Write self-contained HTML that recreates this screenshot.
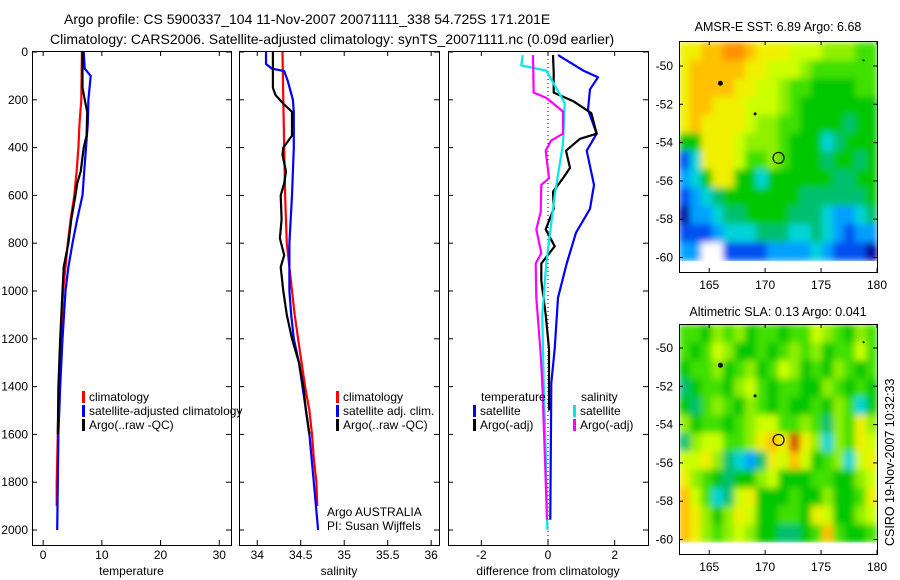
<!DOCTYPE html>
<html><head><meta charset="utf-8"><style>
html,body{margin:0;padding:0;background:#fff;}
svg{display:block;font-family:"Liberation Sans",sans-serif;}
</style></head><body>
<svg id="fig" width="900" height="580" viewBox="0 0 900 580" xmlns="http://www.w3.org/2000/svg">
<defs>
<filter id="soft" x="0" y="0" width="1" height="1"><feGaussianBlur stdDeviation="3.5" edgeMode="duplicate"/></filter>
<clipPath id="clipSst"><rect x="679.5" y="41.5" width="198" height="219.5"/></clipPath>
<clipPath id="clipSla"><rect x="679.5" y="324.5" width="198" height="218"/></clipPath>
</defs>
<text x="64" y="24" font-size="14">Argo profile: CS 5900337_104 11-Nov-2007 20071111_338 54.725S 171.201E</text>
<text x="50" y="44" font-size="14">Climatology: CARS2006. Satellite-adjusted climatology: synTS_20071111.nc (0.09d earlier)</text>
<g id="g"></g>
</svg>
<script>
// ---- temperature panel data
const tClimDepth=[0,200,300,400,500,600,700,800,900,1000,1200,1400,1600,1800,1900];
const tClimVal=[6.6,6.5,6.2,6.0,5.7,5.3,4.7,4.2,3.8,3.4,3.0,2.7,2.5,2.3,2.3];
const tSatDepth=[0,70,100,200,300,400,500,600,700,800,900,1000,1200,1400,1600,1800,2000];
const tSatVal=[6.9,7.1,8.1,7.7,7.6,7.3,7.0,6.7,5.8,5.0,4.3,3.8,3.3,2.9,2.6,2.5,2.4];
const tArgoDepth=[0,150,200,250,350,400,500,550,600,700,800,900,1000,1200,1400,1600];
const tArgoVal=[6.7,6.7,7.1,7.5,7.4,6.9,6.4,5.8,5.5,4.8,4.3,3.5,3.3,2.9,2.6,2.5];
// ---- salinity panel data
const sClimDepth=[0,200,400,600,800,900,1000,1100,1200,1300,1400,1500,1600,1700,1800,1900];
const sClimVal=[34.29,34.30,34.31,34.32,34.34,34.37,34.40,34.43,34.47,34.51,34.55,34.60,34.63,34.65,34.68,34.69];
const sSatDepth=[0,50,70,80,120,200,250,400,600,800,1000,1100,1200,1300,1400,1600,1800,2000];
const sSatVal=[34.10,34.10,34.17,34.31,34.35,34.41,34.42,34.42,34.40,34.37,34.37,34.39,34.42,34.48,34.52,34.60,34.65,34.70];
const sArgoDepth=[0,150,180,220,250,350,400,430,500,550,600,700,780,850,900,1000,1100,1200,1300,1400,1500,1600];
const sArgoVal=[34.18,34.18,34.21,34.31,34.40,34.40,34.30,34.29,34.33,34.31,34.27,34.28,34.26,34.31,34.27,34.30,34.34,34.40,34.48,34.53,34.56,34.60];
// ---- difference panel data
const dTSatDepth=[13,78,106,156,242,342,413,556,656,756,885,1028,1242,1385,1957];
const dTSatVal=[0.3,1.06,1.5,1.26,1.2,1.46,1.16,1.38,1.26,0.84,0.56,0.3,0.2,0.1,0.07];
const dTArgoDepth=[13,85,170,206,256,342,363,413,485,528,585,656,742,813,885,956,1099,1242,1500];
const dTArgoVal=[0.15,0.17,0.17,0.76,1.3,1.46,0.96,0.54,0.66,0.45,0.15,0.17,-0.07,0.2,-0.2,-0.2,-0.07,0.03,0.03];
const dSSatDepth=[13,56,78,213,385,599,885,1099,1385,1671,2000];
const dSSatVal=[-0.76,-0.8,-0.05,0.5,0.45,0.2,-0.05,-0.17,-0.13,-0.07,-0.02];
const dSArgoDepth=[13,170,192,249,342,370,413,528,556,670,742,842,885,1028,1242,1385,1671,1957];
const dSArgoVal=[-0.45,-0.43,-0.05,0.45,0.45,0.1,-0.07,0.03,-0.2,-0.22,-0.35,-0.2,-0.37,-0.35,-0.23,-0.17,-0.1,-0.03];
// ---- tick labels
const depthTicks=[0,200,400,600,800,1000,1200,1400,1600,1800,2000];
const tempTicks=[0,10,20,30];
const salTicks=[34,34.5,35,35.5,36];
const diffTicks=[-2,0,2];
const lonTicks=[165,170,175,180];
const latTicks=[-50,-52,-54,-56,-58,-60];
// ---- map grids (colour level 0..12), rows north->south, cols west->east
const sstGrid=[
[9,9,10,10,11,11,10,9,9,9,8,8,8,7,7,7,6,6],
[9,10,10,10,10,10,9,9,8,8,8,7,6,6,6,6,6,6],
[9,10,10,10,10,9,9,8,8,7,6,6,5,5,5,5,6,6],
[9,10,10,9,9,9,8,8,8,7,6,5,5,5,5,5,5,5],
[9,10,9,9,9,9,8,7,7,6,6,5,5,5,5,4,5,5],
[5,5,9,9,9,8,7,7,7,6,5,5,5,3,4,5,5,5],
[1,3,9,9,9,8,6,6,7,6,5,5,5,4,5,5,4,5],
[2,3,5,9,9,5,5,3,5,5,5,5,5,5,4,4,5,5],
[1,2,3,4,5,5,5,5,5,5,5,4,4,4,4,4,4,5],
[0,2,2,3,4,4,5,5,5,5,4,4,4,3,2,2,3,4],
[1,1,1,2,3,3,3,4,4,4,3,3,4,3,2,1,2,2],
[2,2,-1,-1,1,1,1,1,2,2,2,2,3,2,1,1,1,0]];
const slaGrid=[
[6,6,5,7,6,7,5,6,6,5,6,6,8,7,6,5,7,6],
[6,5,6,8,7,5,5,6,5,6,7,6,7,5,6,6,8,6],
[5,6,6,7,5,6,7,5,6,8,7,5,6,5,7,6,5,6],
[4,5,6,6,5,7,8,6,5,6,6,5,5,7,6,5,6,5],
[5,4,6,7,6,5,7,6,5,6,5,5,6,5,7,6,3,5],
[7,5,6,6,5,6,7,8,8,6,6,7,6,4,7,6,9,7],
[4,7,8,8,6,6,7,9,10,9,12,9,7,3,7,6,9,8],
[8,8,9,7,4,3,2,4,9,8,10,8,5,6,7,3,8,9],
[9,7,6,5,4,5,5,7,8,5,5,5,6,6,5,5,7,8],
[10,8,6,3,4,8,9,5,5,5,6,5,5,7,5,5,6,9],
[10,9,7,5,7,9,8,5,5,6,6,5,9,8,5,5,7,8],
[10,9,7,6,7,8,7,5,5,4,4,5,6,10,6,5,5,6]];
const palette=['#0000a0','#0050f0','#00a0ff','#00d4d8','#00c070','#00c800','#40e000','#90f000','#ccff00','#f0f000','#ffc000','#ff9000','#d05000'];
const floatLon=[171.2], floatLat=[-54.8];

const NS='http://www.w3.org/2000/svg';
const G=document.getElementById('g');
function mk(tag,attrs,parent){const e=document.createElementNS(NS,tag);for(const k in attrs)e.setAttribute(k,attrs[k]);(parent||G).appendChild(e);return e;}
function txt(s,x,y,attrs,parent){const e=mk('text',Object.assign({x:x,y:y,'font-size':12},attrs||{}),parent);e.textContent=s;return e;}

const yTop=52, pxPerM=0.239, boxTop=51, boxBot=545;
const yD=d=>yTop+d*pxPerM;
function panel(name,x0,x1,xmin,xmax,ticks,label,fmt){
  const sx=v=>x0+(v-xmin)/(xmax-xmin)*(x1-x0);
  const g=mk('g',{});
  
  
  const r=mk('rect',{x:x0+0.5,y:boxTop+0.5,width:x1-x0,height:boxBot-boxTop,fill:'none',stroke:'#000','stroke-width':1},g);
  
  
  ticks.forEach(t=>{const x=sx(t);
    mk('line',{x1:x,x2:x,y1:boxBot,y2:boxBot-5,stroke:'#000'},g);
    mk('line',{x1:x,x2:x,y1:boxTop,y2:boxTop+5,stroke:'#000'},g);
    const tl=txt(fmt(t),x,559,{'text-anchor':'middle'},g);
    
    });
  depthTicks.forEach(d=>{const y=yD(d);
    mk('line',{x1:x0,x2:x0+5,y1:y,y2:y,stroke:'#000'},g);
    mk('line',{x1:x1,x2:x1-5,y1:y,y2:y,stroke:'#000'},g);});
  const xl=txt(label,(x0+x1)/2,575,{'text-anchor':'middle'},g);
  
  
  return {sx:sx,g:g};
}
function line(p,depths,vals,color,name,w){
  const pts=depths.map((d,i)=>p.sx(vals[i]).toFixed(1)+','+yD(d).toFixed(1)).join(' ');
  const e=mk('polyline',{points:pts,fill:'none',stroke:color,'stroke-width':w||2.2,'stroke-linejoin':'round'},p.g);
  
  
}
function legend(x,y,color,label,name,parent){
  const b=mk('rect',{x:x,y:y-10,width:3,height:12,fill:color},parent);
  
  
  const t=txt(label,x+7,y,{},parent);
  
  
}
depthTicks.forEach(d=>{const t=txt(String(d),28,yD(d)+4,{'text-anchor':'end'});
  
  });

const p1=panel('temperature',32,231,-1.9,32,tempTicks,'temperature',String);
line(p1,tClimDepth,tClimVal,'#ff0000','temp-climatology-line');
line(p1,tSatDepth,tSatVal,'#0000ff','temp-satellite-line');
line(p1,tArgoDepth,tArgoVal,'#000000','temp-argo-line');
legend(82,401,'#ff0000','climatology','legend-climatology',p1.g);
legend(82,415,'#0000ff','satellite-adjusted climatology','legend-satellite-adjusted',p1.g);
legend(82,429,'#000000','Argo(..raw -QC)','legend-argo-raw',p1.g);

const p2=panel('salinity',239,439,33.79,36.09,salTicks,'salinity',String);
line(p2,sClimDepth,sClimVal,'#ff0000','sal-climatology-line');
line(p2,sSatDepth,sSatVal,'#0000ff','sal-satellite-line');
line(p2,sArgoDepth,sArgoVal,'#000000','sal-argo-line');
legend(336,401,'#ff0000','climatology','legend-sal-climatology',p2.g);
legend(336,415,'#0000ff','satellite adj. clim.','legend-sal-satellite',p2.g);
legend(336,429,'#000000','Argo(..raw -QC)','legend-sal-argo',p2.g);
const a1=txt('Argo AUSTRALIA',327,516,{},p2.g);


const a2=txt('PI: Susan Wijffels',327,530,{},p2.g);



const p3=panel('difference',448,648,-3,3,diffTicks,'difference from climatology',String);
const zx=p3.sx(0);
const zl=mk('line',{x1:zx,x2:zx,y1:boxTop,y2:boxBot,stroke:'#000','stroke-dasharray':'1,3'},p3.g);


line(p3,dTSatDepth,dTSatVal,'#0000ff','diff-temp-satellite-line');
line(p3,dTArgoDepth,dTArgoVal,'#000000','diff-temp-argo-line');
line(p3,dSSatDepth,dSSatVal,'#00e8e8','diff-sal-satellite-line');
line(p3,dSArgoDepth,dSArgoVal,'#ff00ff','diff-sal-argo-line');
const h1=txt('temperature',481,401,{},p3.g);


const h2=txt('salinity',581,401,{},p3.g);


legend(473,415,'#0000ff','satellite','legend-diff-temp-satellite',p3.g);
legend(473,429,'#000000','Argo(-adj)','legend-diff-temp-argo',p3.g);
legend(573,415,'#00e8e8','satellite','legend-diff-sal-satellite',p3.g);
legend(573,429,'#ff00ff','Argo(-adj)','legend-diff-sal-argo',p3.g);

function map(name,top,bot,latTopPx,grid,title,titleY,clipId){
  const x0=679,x1=877,lonMin=162.3,lonMax=180;
  const lat50=latTopPx, pxDeg=19.15;
  const sx=l=>x0+(l-lonMin)/(lonMax-lonMin)*(x1-x0);
  const sy=la=>lat50+(-50-la)*pxDeg;
  const g=mk('g',{});
  
  
  const clipG=mk('g',{'clip-path':'url(#'+clipId+')'},g);
  
  
  const cg=mk('g',{filter:'url(#soft)'},clipG);
  
  
  const latN=-48.75, latS=-60.15, rows=grid.length, cols=grid[0].length;
  const dLat=(latN-latS)/rows, dLon=(lonMax-lonMin)/cols;
  grid.forEach((row,r)=>row.forEach((v,c)=>{
    const x=sx(lonMin+c*dLon), y=sy(latN-r*dLat);
    const cell=mk('rect',{x:x.toFixed(1),y:y.toFixed(1),width:(sx(lonMin+(c+1)*dLon)-x+0.6).toFixed(1),height:(sy(latN-(r+1)*dLat)-y+0.6).toFixed(1),fill:v<0?'#ffffff':palette[v]},cg);
    
    
  }));
  const b=mk('rect',{x:x0+0.5,y:top+0.5,width:x1-x0,height:bot-top,fill:'none',stroke:'#000'},g);
  
  
  lonTicks.forEach(l=>{const x=sx(l);
    mk('line',{x1:x,x2:x,y1:top,y2:top+4,stroke:'#000'},g);
    mk('line',{x1:x,x2:x,y1:bot,y2:bot-4,stroke:'#000'},g);
    const t=txt(String(l),x,bot+17,{'text-anchor':'middle'},g);
    
    });
  latTicks.forEach(la=>{const y=sy(la);
    mk('line',{x1:x0,x2:x0+4,y1:y,y2:y,stroke:'#000'},g);
    mk('line',{x1:x1,x2:x1-4,y1:y,y2:y,stroke:'#000'},g);
    const t=txt(String(la),673,y+4,{'text-anchor':'end'},g);
    
    });
  [[166,-50.9,2.5],[169.1,-52.5,1.5],[178.8,-49.7,1]].forEach(p=>{
    const d=mk('circle',{cx:sx(p[0]),cy:sy(p[1]),r:p[2],fill:'#000'},g);
    
    });
  const fc=mk('circle',{cx:sx(floatLon[0]),cy:sy(floatLat[0]),r:5.5,fill:'none',stroke:'#000','stroke-width':1.2},g);
  
  
  const tt=txt(title,778,titleY,{'text-anchor':'middle','font-size':12.5},g);
  
  
}
map('sst',41,272,66,sstGrid,'AMSR-E SST: 6.89 Argo: 6.68',31,'clipSst');
map('sla',324,554,348,slaGrid,'Altimetric SLA: 0.13 Argo: 0.041',316,'clipSla');
const cs=txt('CSIRO 19-Nov-2007 10:32:33',0,0,{transform:'translate(894,546) rotate(-90)','font-size':12.5});


</script>
</body></html>
